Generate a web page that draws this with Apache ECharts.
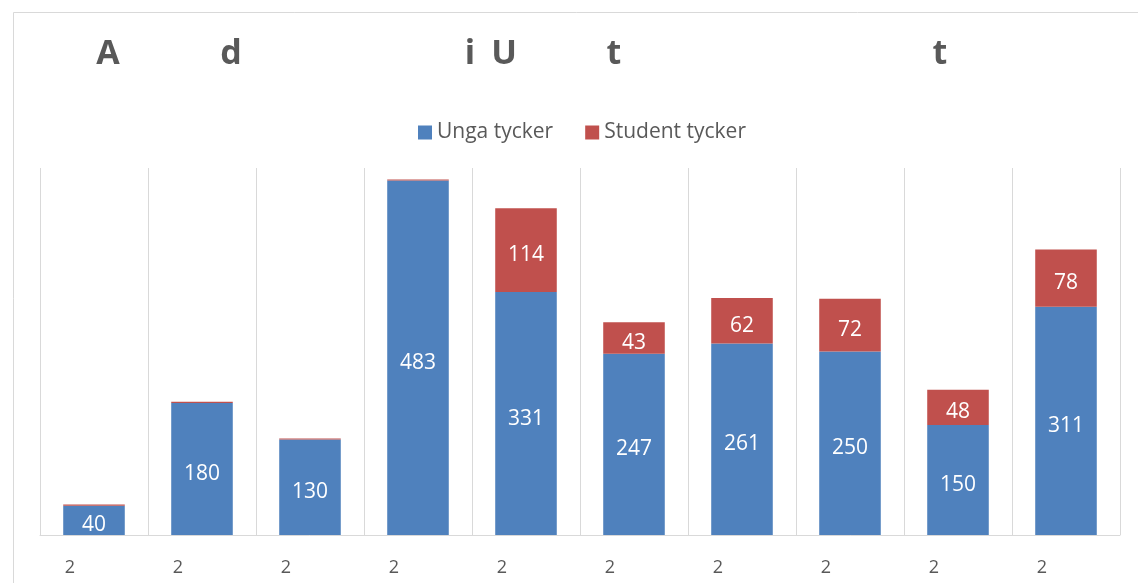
<!DOCTYPE html>
<html>
<head>
<meta charset="utf-8">
<script src="https://cdn.jsdelivr.net/npm/echarts@6/dist/echarts.min.js"></script>
<style>
  html, body { margin: 0; padding: 0; background: #fff; }
  #chart { width: 1138px; height: 583px; }
</style>
</head>
<body>
<div id="chart"></div>
<script>
const CATEGORIES = ["2", "2", "2", "2", "2", "2", "2", "2", "2", "2"];
const UNGA = [40, 180, 130, 483, 331, 247, 261, 250, 150, 311];
const STUDENT = [1.5, 1.5, 1.5, 1.5, 114, 43, 62, 72, 48, 78];
const TITLE_GLYPHS = ["A", "d", "i", "U", "t", "t"];
const TITLE_X = [108, 231, 470, 504, 614, 940];

const FONT = "'Liberation Sans Narrow', 'Open Sans', sans-serif";
const GREY = "#595959";

const chart = echarts.init(document.getElementById("chart"), null, { renderer: "canvas" });

const label = {
  show: true,
  position: "inside",
  offset: [0, 5],
  color: "#fff",
  fontSize: 21,
  fontFamily: FONT,
  formatter: (p) => (p.value < 10 ? "" : p.value),
};

chart.setOption({
  backgroundColor: "#fff",
  animation: false,
  graphic: [
    {
      type: "polyline",
      shape: { points: [[13.5, 600], [13.5, 12.5], [1200, 12.5]] },
      style: { stroke: "#d9d9d9", lineWidth: 1, fill: null },
    },
    ...TITLE_GLYPHS.map((t, i) => ({
      type: "text",
      x: TITLE_X[i],
      y: 54,
      style: {
        text: t,
        fill: GREY,
        font: "bold 34px " + FONT,
        align: "center",
        verticalAlign: "middle",
      },
    })),
  ],
  legend: {
    top: 117,
    left: 413,
    itemWidth: 14,
    itemHeight: 14,
    itemGap: 32,
    icon: "rect",
    textStyle: { color: GREY, fontSize: 21, fontFamily: FONT },
    data: ["Unga tycker", "Student tycker"],
  },
  grid: { left: 40, right: 18, top: 168, bottom: 48 },
  xAxis: {
    type: "category",
    data: CATEGORIES,
    axisLine: { lineStyle: { color: "#d9d9d9", width: 1 } },
    axisTick: { show: false },
    splitLine: { show: true, lineStyle: { color: "#d9d9d9", width: 1 } },
    axisLabel: {
      color: GREY,
      fontSize: 18,
      fontFamily: FONT,
      margin: 24,
      padding: [0, 48, 0, 0],
    },
  },
  yAxis: {
    type: "value",
    min: 0,
    max: 500,
    show: false,
    splitLine: { show: false },
  },
  series: [
    {
      name: "Unga tycker",
      type: "bar",
      stack: "total",
      data: UNGA,
      barCategoryGap: "43%",
      itemStyle: { color: "#4f81bd" },
      label,
    },
    {
      name: "Student tycker",
      type: "bar",
      stack: "total",
      data: STUDENT,
      itemStyle: { color: "#c0504d" },
      label,
    },
  ],
});
</script>
</body>
</html>
